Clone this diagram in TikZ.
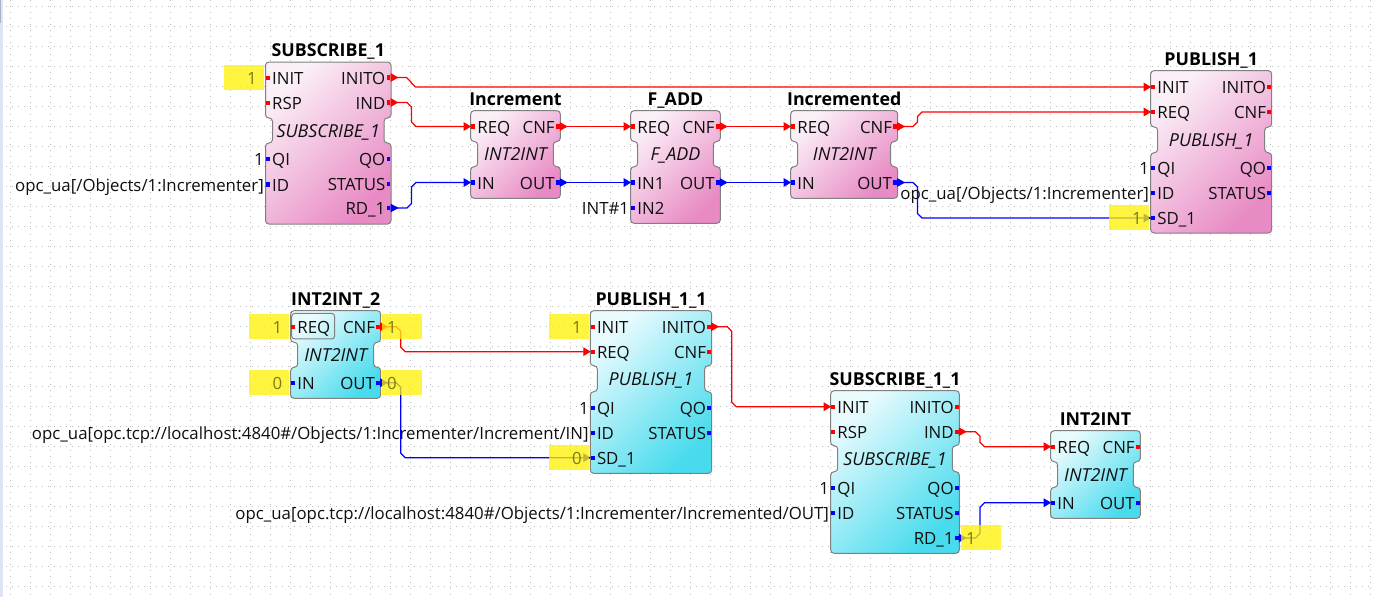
\documentclass[tikz,border=0pt]{standalone}
\usepackage{fontspec}
\setmainfont{Open Sans}
\usetikzlibrary{calc,arrows.meta}
\definecolor{pinkA}{RGB}{251,240,247}
\definecolor{pinkB}{RGB}{232,138,196}
\definecolor{cyanA}{RGB}{234,251,254}
\definecolor{cyanB}{RGB}{72,219,237}
\definecolor{evred}{RGB}{255,0,0}
\definecolor{datablue}{RGB}{0,0,255}
\definecolor{edge}{RGB}{128,128,128}
\definecolor{griddot}{RGB}{190,190,190}
\definecolor{strip}{RGB}{222,228,245}
\definecolor{stripdark}{RGB}{172,176,200}
\definecolor{valtext}{RGB}{120,120,30}
\definecolor{inktext}{RGB}{15,15,15}
\tikzset{
  x=1pt,y=-1pt,
  gridline/.style={griddot,line width=1pt,dash pattern=on 1pt off 5pt},
  fbshape/.style={draw=edge,line width=1pt,rounded corners=3.4pt},
  pinbox/.style={rectangle,inner sep=0pt,minimum width=3.8pt,minimum height=4.4pt},
  pintext/.style={inner sep=0pt,text=inktext,font=\fontsize{16.8}{20}\selectfont},
  titletext/.style={inner sep=0pt,anchor=base,text=black,font=\fontsize{17.8}{20}\selectfont\bfseries},
  typetext/.style={inner sep=0pt,anchor=base,text=inktext,font=\fontsize{17.9}{20}\selectfont\itshape},
  wirestyle/.style={line width=1.2pt,{Triangle[reversed,length=8pt,width=8.5pt]}-{Triangle[length=7.5pt,width=8.5pt]}},
  yellowbox/.style={rectangle,inner sep=0pt,minimum width=40pt,minimum height=25pt,fill=yellow,fill opacity=.75},
  valuetext/.style={inner sep=0pt,text=valtext,font=\fontsize{16.8}{20}\selectfont},
}
% name, L, T, R, B, event end, neck end, light, dark, title, type
\newcommand\fblock[9]{%
  \def\bn{#1}\def\bL{#2}\def\bT{#3}\def\bR{#4}\def\bB{#5}\def\bE{#6}\def\bN{#7}%
  \def\bCa{#8}\def\bCb{#9}\fblockrest}
\newcommand\fblockrest[2]{%
  \path[fbshape,top color=\bCa,bottom color=\bCb,shading angle=45]
    (\bL,\bT) -- (\bR,\bT) -- (\bR,\bE) -- (\bR-7,\bE) -- (\bR-7,\bN) -- (\bR,\bN)
    -- (\bR,\bB) -- (\bL,\bB) -- (\bL,\bN) -- (\bL+7,\bN) -- (\bL+7,\bE) -- (\bL,\bE) -- cycle;
  \node[titletext] (\bn-title) at ({(\bL+\bR)/2},\bT-5.5) {#1};
  \node[typetext] (\bn-type) at ({(\bL+\bR)/2},{(\bE+\bN)/2+6.5}) {#2};}
\newcommand\pl[4]{%
  \node[pinbox,fill=#3] (\bn-#1) at (\bL+2.6,#2) {};
  \node[pintext,anchor=base west] (\bn-#1-lbl) at (\bL+6.5,#2+6.5) {#4};}
\newcommand\pr[4]{%
  \node[pinbox,fill=#3] (\bn-#1) at (\bR-2.6,#2) {};
  \node[pintext,anchor=base east] (\bn-#1-lbl) at (\bR-5.5,#2+6.5) {#4};}
% constant label at the left of a pin
\newcommand\cl[3]{%
  \node[pintext,anchor=base east] (\bn-#1-const) at (\bL-1.5,#2+6.5) {#3};}
\newcommand\wireS[3]{\draw[wirestyle,#1] (#2.east) -- (#3.west);}
\newcommand\wireR[4]{\draw[wirestyle,#1] let \p1=(#2.east),\p2=(#3.west),\n1={(\y2>\y1 ? 4.5 : -4.5)} in
  (\p1) -- (#4pt-4.5pt,\y1) -- (#4pt,\y1+\n1*1pt) -- (#4pt,\y2-\n1*1pt) -- (#4pt+4.5pt,\y2) -- (\p2);}
% name, centre x, centre y, text x, anchor, text
\newcommand\yval[6]{%
  \node[yellowbox] (#1) at (#2,#3) {};
  \node[valuetext,anchor=base #5] (#1-v) at (#4,#3+6.5) {#6};}
\begin{document}
\begin{tikzpicture}
\useasboundingbox (0,0) rectangle (1380,597);
\fill[white] (0,0) rectangle (1380,597);
\fill[strip] (0,0) rectangle (3.2,597);
\fill[stripdark] (0,0) rectangle (1.2,23);
\foreach \gy in {6,26,...,586}{\draw[gridline] (5.5,\gy) -- (1373,\gy);}
\foreach \gx in {10,30,...,1370}{\draw[gridline] (\gx,-0.5) -- (\gx,597);}

\fblock{SA}{265.5}{62}{391}{224}{118}{143}{pinkA}{pinkB}{SUBSCRIBE\_1}{SUBSCRIBE\_1}
\pl{INIT}{78}{evred}{INIT}\pl{RSP}{103}{evred}{RSP}\pl{QI}{159}{datablue}{QI}\pl{ID}{184.5}{datablue}{ID}
\pr{INITO}{77.5}{evred}{INITO}\pr{IND}{102.5}{evred}{IND}\pr{QO}{159}{datablue}{QO}\pr{STATUS}{184}{datablue}{STATUS}\pr{RD}{208}{datablue}{RD\_1}
\cl{QI}{159}{1}\cl{ID}{184.5}{opc\_ua[/Objects/1:Incrementer]}

\fblock{INC}{470.7}{110.7}{560.3}{198.3}{141.5}{166.7}{pinkA}{pinkB}{Increment}{INT2INT}
\pl{REQ}{126.5}{evred}{REQ}\pl{IN}{182.5}{datablue}{IN}\pr{CNF}{126.5}{evred}{CNF}\pr{OUT}{182.5}{datablue}{OUT}

\fblock{ADD}{630.7}{110.7}{720.3}{223.3}{141.5}{166.7}{pinkA}{pinkB}{F\_ADD}{F\_ADD}
\pl{REQ}{126.5}{evred}{REQ}\pl{INA}{182.5}{datablue}{IN1}\pl{INB}{207.7}{datablue}{IN2}\pr{CNF}{126.5}{evred}{CNF}\pr{OUT}{182.5}{datablue}{OUT}
\cl{INB}{207.7}{INT\#1}

\fblock{INCD}{790.7}{110.7}{897.7}{198.3}{141.5}{166.7}{pinkA}{pinkB}{Incremented}{INT2INT}
\pl{REQ}{126.5}{evred}{REQ}\pl{IN}{182.5}{datablue}{IN}\pr{CNF}{126.5}{evred}{CNF}\pr{OUT}{182.5}{datablue}{OUT}

\fblock{PA}{1150.7}{70.7}{1271.7}{233}{127}{152.7}{pinkA}{pinkB}{PUBLISH\_1}{PUBLISH\_1}
\pl{INIT}{87}{evred}{INIT}\pl{REQ}{112}{evred}{REQ}\pl{QI}{168}{datablue}{QI}\pl{ID}{193}{datablue}{ID}\pl{SD}{218}{datablue}{SD\_1}
\pr{INITO}{87}{evred}{INITO}\pr{CNF}{112}{evred}{CNF}\pr{QO}{168}{datablue}{QO}\pr{STATUS}{193}{datablue}{STATUS}
\cl{QI}{168}{1}\cl{ID}{193}{opc\_ua[/Objects/1:Incrementer]}

\fblock{IT}{290.7}{310.7}{380.7}{398.3}{342.3}{367.3}{cyanA}{cyanB}{INT2INT\_2}{INT2INT}
\node[draw=edge,line width=1pt,rounded corners=3pt,inner sep=0pt,minimum width=43pt,minimum height=25.5pt] (IT-select) at (313.2,326.2) {};
\pl{REQ}{326.7}{evred}{REQ}\pl{IN}{382.7}{datablue}{IN}\pr{CNF}{326.7}{evred}{CNF}\pr{OUT}{382.7}{datablue}{OUT}

\fblock{PB}{590.3}{310.7}{711.7}{473.3}{365.7}{391.7}{cyanA}{cyanB}{PUBLISH\_1\_1}{PUBLISH\_1}
\pl{INIT}{326.7}{evred}{INIT}\pl{REQ}{351.7}{evred}{REQ}\pl{QI}{407.7}{datablue}{QI}\pl{ID}{432.7}{datablue}{ID}\pl{SD}{457.7}{datablue}{SD\_1}
\pr{INITO}{326.7}{evred}{INITO}\pr{CNF}{351.7}{evred}{CNF}\pr{QO}{407.7}{datablue}{QO}\pr{STATUS}{432.7}{datablue}{STATUS}
\cl{QI}{407.7}{1}\cl{ID}{432.7}{opc\_ua[opc.tcp://localhost:4840\#/Objects/1:Incrementer/Increment/IN]}

\fblock{SB}{830.7}{390.7}{959.3}{553.3}{445.7}{471.7}{cyanA}{cyanB}{SUBSCRIBE\_1\_1}{SUBSCRIBE\_1}
\pl{INIT}{406.7}{evred}{INIT}\pl{RSP}{431.7}{evred}{RSP}\pl{QI}{487.7}{datablue}{QI}\pl{ID}{512.7}{datablue}{ID}
\pr{INITO}{406.7}{evred}{INITO}\pr{IND}{431.7}{evred}{IND}\pr{QO}{487.7}{datablue}{QO}\pr{STATUS}{512.7}{datablue}{STATUS}\pr{RD}{538}{datablue}{RD\_1}
\cl{QI}{487.7}{1}\cl{ID}{512.7}{opc\_ua[opc.tcp://localhost:4840\#/Objects/1:Incrementer/Incremented/OUT]}

\fblock{IU}{1050.7}{430.7}{1140.3}{518.3}{461.7}{487.3}{cyanA}{cyanB}{INT2INT}{INT2INT}
\pl{REQ}{446.7}{evred}{REQ}\pl{IN}{502.7}{datablue}{IN}\pr{CNF}{446.7}{evred}{CNF}\pr{OUT}{502.7}{datablue}{OUT}

% connectors
\wireR{evred}{SA-INITO}{PA-INIT}{411}
\wireR{evred}{SA-IND}{INC-REQ}{411.5}
\wireR{datablue}{SA-RD}{INC-IN}{411.5}
\wireS{evred}{INC-CNF}{ADD-REQ}
\wireS{datablue}{INC-OUT}{ADD-INA}
\wireS{evred}{ADD-CNF}{INCD-REQ}
\wireS{datablue}{ADD-OUT}{INCD-IN}
\wireR{evred}{INCD-CNF}{PA-REQ}{917.5}
\wireR{datablue}{INCD-OUT}{PA-SD}{917.5}
\wireR{evred}{IT-CNF}{PB-REQ}{400.7}
\wireR{datablue}{IT-OUT}{PB-SD}{400.7}
\wireR{evred}{PB-INITO}{SB-INIT}{731.7}
\wireR{evred}{SB-IND}{IU-REQ}{980}
\wireR{datablue}{SB-RD}{IU-IN}{980}

% yellow value boxes
\yval{vSA}{244}{77.5}{257}{east}{1}
\yval{vPA}{1129.3}{217.5}{1142}{east}{1}
\yval{vITa}{269.2}{326.5}{282.5}{east}{1}
\yval{vITb}{269.2}{382.5}{282.5}{east}{0}
\yval{vITc}{401.8}{326.5}{387}{west}{1}
\yval{vITd}{401.8}{382.5}{387}{west}{0}
\yval{vPBa}{569}{326.5}{582}{east}{1}
\yval{vPBb}{569}{457.5}{582}{east}{0}
\yval{vSB}{981}{537.5}{966}{west}{1}
\end{tikzpicture}
\end{document}
